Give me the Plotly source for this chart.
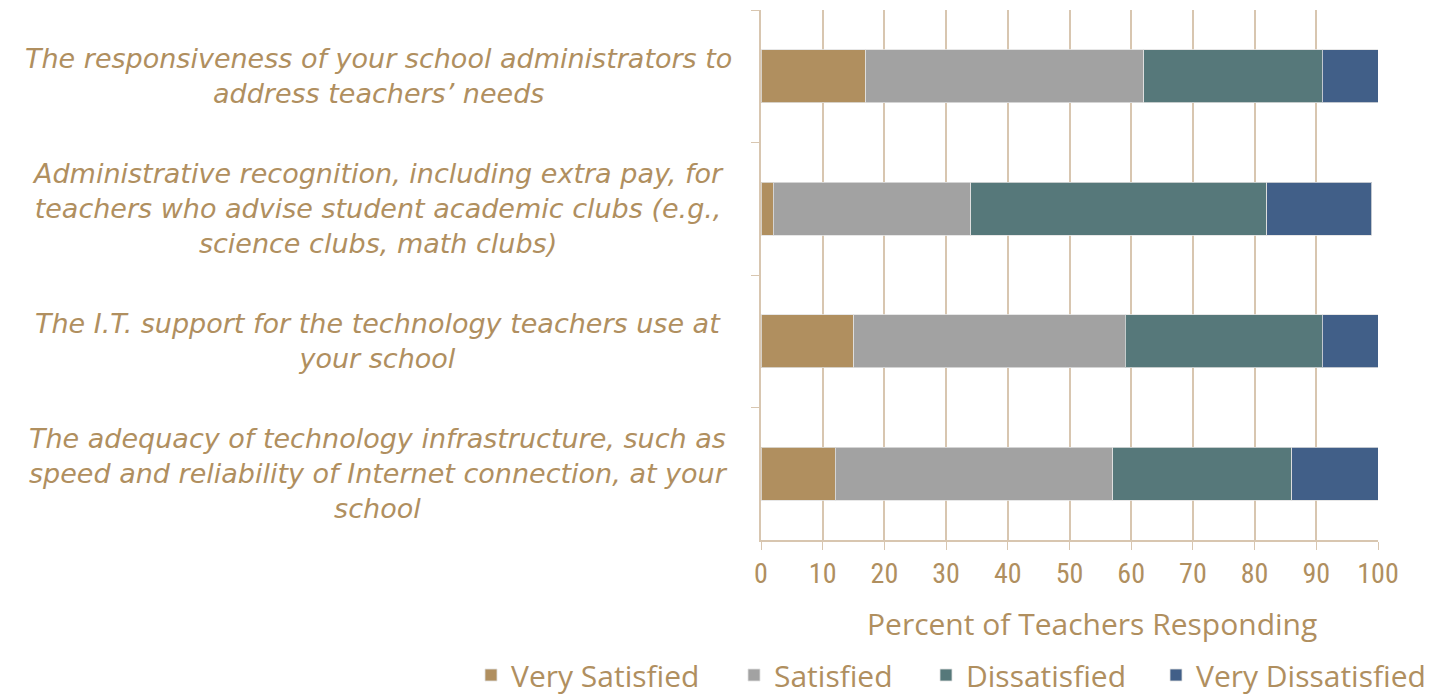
import plotly.graph_objects as go

categories = [
    "The responsiveness of your school administrators to<br>address teachers’ needs",
    "Administrative recognition, including extra pay, for<br>teachers who advise student academic clubs (e.g.,<br>science clubs, math clubs)",
    "The I.T. support for the technology teachers use at<br>your school",
    "The adequacy of technology infrastructure, such as<br>speed and reliability of Internet connection, at your<br>school",
]
series_names = ["Very Satisfied", "Satisfied", "Dissatisfied", "Very Dissatisfied"]
very_satisfied = [17, 2, 15, 12]
satisfied = [45, 32, 44, 45]
dissatisfied = [29, 48, 32, 29]
very_dissatisfied = [9, 17, 9, 14]
x_ticks = [0, 10, 20, 30, 40, 50, 60, 70, 80, 90, 100]
x_title = "Percent of Teachers Responding"

values = [very_satisfied, satisfied, dissatisfied, very_dissatisfied]
colors = ["#B08F5F", "#A2A2A2", "#56787A", "#415F88"]
legend_px = [471, 734, 926, 1156]
TXT = "#B08F5F"
GRID = "#D8C6B0"
NARROW = "Roboto Condensed, Liberation Sans Narrow, sans-serif"
LABELF = "DejaVu Sans, sans-serif"
TEXTF = "Open Sans, sans-serif"

W, H = 1441, 696
ML, MR, MT, MB = 761, 63, 10, 156
PW = W - ML - MR
PH = H - MT - MB

def px_x(px):
    return (px - ML) / PW

def px_y(py):
    return (H - MB - py) / PH

ids = [f"c{i}" for i in range(len(categories))]

fig = go.Figure()
legend_keys = ["legend", "legend2", "legend3", "legend4"]
for name, vals, col, lk in zip(series_names, values, colors, legend_keys):
    fig.add_trace(go.Bar(
        y=ids, x=vals, name=name, orientation="h",
        marker=dict(color=col, line=dict(color="rgba(225,225,225,0.8)", width=1)),
        width=0.4, legend=lk,
    ))

for cid, label in zip(ids, categories):
    fig.add_annotation(
        x=px_x(378), xref="paper", y=cid, yref="y", text=f"<i>{label}</i>",
        showarrow=False, xanchor="center", yanchor="middle", align="center",
        font=dict(family=LABELF, size=27, color=TXT),
    )

fig.add_annotation(
    x=px_x(1092), xref="paper", y=px_y(623), yref="paper", text=x_title,
    showarrow=False, xanchor="center", yanchor="middle",
    font=dict(family=TEXTF, size=30, color=TXT),
)

legend_layout = {}
for lk, lx in zip(legend_keys, legend_px):
    legend_layout[lk] = dict(
        orientation="h", x=px_x(lx), xanchor="left", y=px_y(675), yanchor="middle",
        font=dict(family=TEXTF, size=30, color=TXT), bgcolor="rgba(0,0,0,0)",
    )

fig.update_layout(
    barmode="stack",
    width=W, height=H,
    margin=dict(l=ML, r=MR, t=MT, b=MB, autoexpand=False),
    plot_bgcolor="white", paper_bgcolor="white",
    font=dict(family=TEXTF, color=TXT),
    showlegend=True,
    **legend_layout,
)
fig.update_xaxes(
    range=[0, 100], tickvals=x_ticks, ticks="outside", ticklen=8, tickcolor=GRID,
    showgrid=True, gridcolor=GRID, gridwidth=1.5,
    showline=True, linecolor=GRID, linewidth=1.5,
    tickfont=dict(family=NARROW, size=28, color=TXT),
    zeroline=False,
)
fig.update_yaxes(
    autorange="reversed", showticklabels=False, ticks="outside", ticklen=8, tickcolor=GRID,
    tickson="boundaries", showline=True, linecolor=GRID, linewidth=1.5, showgrid=False,
)

fig.write_html("out.html", config={"displayModeBar": False},
               post_script="document.body.style.margin='0';document.body.style.overflow='hidden';")
